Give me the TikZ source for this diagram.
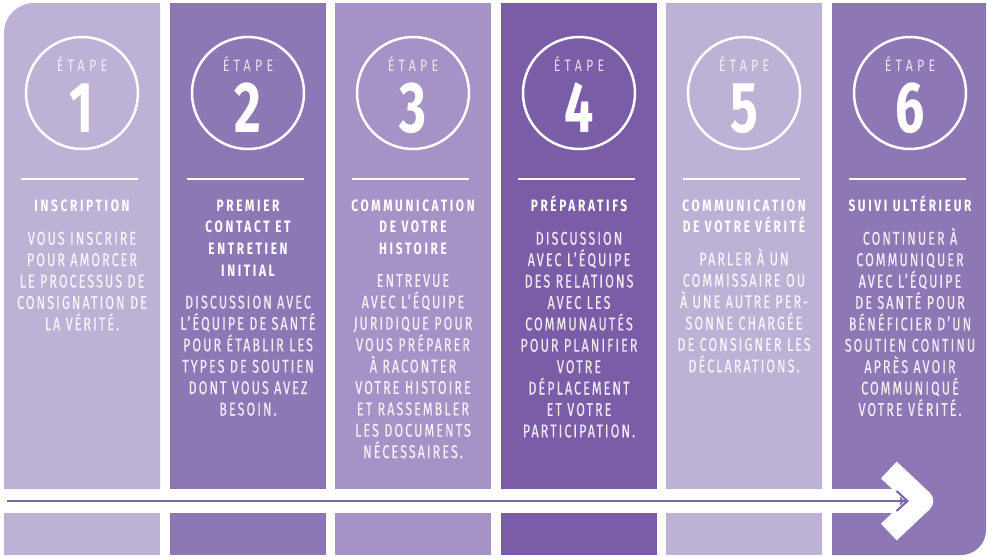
\documentclass[tikz,border=0pt]{standalone}
\usepackage{fontspec}
\setmainfont{Fira Sans}
\newfontfamily\numf{Fira Sans}[FakeStretch=0.72]
\newfontfamily\etapef{Fira Sans}[FakeStretch=0.75, LetterSpace=26]
\newfontfamily\titlef{Fira Sans}[FakeStretch=0.72, LetterSpace=16]
\newfontfamily\bodyf{Fira Sans}[FakeStretch=0.68, LetterSpace=11, FakeBold=0.4]
\usetikzlibrary{arrows.meta}
\definecolor{cA}{HTML}{BDB2D6}
\definecolor{cB}{HTML}{8D78B6}
\definecolor{cC}{HTML}{A592C6}
\definecolor{cD}{HTML}{7A5CA7}
\definecolor{cE}{HTML}{BDB1D6}
\definecolor{cF}{HTML}{8D77B5}
\definecolor{arr}{HTML}{7D62AA}
\newcommand\mystrut{\rule{0pt}{17pt}}
\begin{document}
\begin{tikzpicture}[x=1pt,y=-1pt,
  ring/.style={circle, draw=white, line width=2.5pt, minimum size=112pt, inner sep=0pt},
  etape/.style={anchor=base, text=white, text opacity=0.8, font=\etapef\fontsize{16.5}{16.5}\selectfont, inner sep=0pt},
  num/.style={anchor=base, text=white, font=\numf\bfseries\fontsize{72}{72}\selectfont, inner sep=0pt},
  ttl/.style={anchor=north, align=center, text=white, font=\titlef\bfseries\fontsize{16.5}{21.6}\selectfont, inner sep=0pt},
  body/.style={anchor=north, align=center, text=white, text opacity=0.85, font=\bodyf\fontsize{18.5}{21.4}\selectfont, inner sep=0pt},
  sep/.style={draw=white, line width=1.3pt},
  arrowline/.style={draw=arr, line width=2pt, -{Straight Barb[length=11pt, width=20pt, line width=2pt]}}
]
\useasboundingbox (0,0) rectangle (987,557);
% columns
\fill[cA] (4,489) [rounded corners=30pt] -- (4,3) [sharp corners] -- (160,3) -- (160,489) -- cycle;
\fill[cB] (170,3) rectangle (326,489);
\fill[cC] (335,3) rectangle (491,489);
\fill[cD] (501,3) rectangle (657,489);
\fill[cE] (666,3) rectangle (822,489);
\fill[cF] (832,3) -- (986,3) [rounded corners=25pt] -- (986,555) [sharp corners] -- (832,555) -- cycle;
% bottom strips
\fill[cA] (4,513) rectangle (160,555);
\fill[cB] (170,513) rectangle (326,555);
\fill[cC] (335,513) rectangle (491,555);
\fill[cD] (501,513) rectangle (657,555);
\fill[cE] (666,513) rectangle (822,555);
% white band and chevron
\fill[white] (832,489) rectangle (900,513);
\draw[white, line width=23pt, line join=round] (888.8,470) -- (921.8,501) -- (888.8,532);
% arrow
\coordinate (as) at (7,501);
\coordinate (ae) at (909,501);
\draw[arrowline] (as) -- (ae);

% step 1
\node[ring] (r1) at (82,93) {};
\node[etape] (e1) at (82,71) {ÉTAPE};
\node[num] (n1) at (82,132.5) {1};
\draw[sep] (21,179) -- (138,179);
\node[ttl] (t1) at (82,194) {\mystrut INSCRIPTION};
\node[body] (b1) at (82,227.5) {\mystrut VOUS INSCRIRE\\POUR AMORCER\\LE PROCESSUS DE\\CONSIGNATION DE\\LA VÉRITÉ.};
% step 2
\node[ring] (r2) at (248,93) {};
\node[etape] (e2) at (248,71) {ÉTAPE};
\node[num] (n2) at (248,132.5) {2};
\draw[sep] (187,179) -- (304,179);
\node[ttl] (t2) at (248,194) {\mystrut PREMIER\\CONTACT ET\\ENTRETIEN\\INITIAL};
\node[body] (b2) at (248,291.3) {\mystrut DISCUSSION AVEC\\L’ÉQUIPE DE SANTÉ\\POUR ÉTABLIR LES\\TYPES DE SOUTIEN\\DONT VOUS AVEZ\\BESOIN.};
% step 3
\node[ring] (r3) at (413,93) {};
\node[etape] (e3) at (413,71) {ÉTAPE};
\node[num] (n3) at (413,132.5) {3};
\draw[sep] (352,179) -- (469,179);
\node[ttl] (t3) at (413,194) {\mystrut COMMUNICATION\\DE VOTRE\\HISTOIRE};
\node[body] (b3) at (413,269.7) {\mystrut ENTREVUE\\AVEC L’ÉQUIPE\\JURIDIQUE POUR\\VOUS PRÉPARER\\À RACONTER\\VOTRE HISTOIRE\\ET RASSEMBLER\\LES DOCUMENTS\\NÉCESSAIRES.};
% step 4
\node[ring] (r4) at (579,93) {};
\node[etape] (e4) at (579,71) {ÉTAPE};
\node[num] (n4) at (579,132.5) {4};
\draw[sep] (518,179) -- (635,179);
\node[ttl] (t4) at (579,194) {\mystrut PRÉPARATIFS};
\node[body] (b4) at (579,227.5) {\mystrut DISCUSSION\\AVEC L’ÉQUIPE\\DES RELATIONS\\AVEC LES\\COMMUNAUTÉS\\POUR PLANIFIER\\VOTRE\\DÉPLACEMENT\\ET VOTRE\\PARTICIPATION.};
% step 5
\node[ring] (r5) at (744,93) {};
\node[etape] (e5) at (744,71) {ÉTAPE};
\node[num] (n5) at (744,132.5) {5};
\draw[sep] (683,179) -- (800,179);
\node[ttl] (t5) at (744,194) {\mystrut COMMUNICATION\\DE VOTRE VÉRITÉ};
\node[body] (b5) at (744,248.1) {\mystrut PARLER À UN\\COMMISSAIRE OU\\À UNE AUTRE PER-\\SONNE CHARGÉE\\DE CONSIGNER LES\\DÉCLARATIONS.};
% step 6
\node[ring] (r6) at (910,93) {};
\node[etape] (e6) at (910,71) {ÉTAPE};
\node[num] (n6) at (910,132.5) {6};
\draw[sep] (849,179) -- (966,179);
\node[ttl] (t6) at (910,194) {\mystrut SUIVI ULTÉRIEUR};
\node[body] (b6) at (910,227.5) {\mystrut CONTINUER À\\COMMUNIQUER\\AVEC L’ÉQUIPE\\DE SANTÉ POUR\\BÉNÉFICIER D’UN\\SOUTIEN CONTINU\\APRÈS AVOIR\\COMMUNIQUÉ\\VOTRE VÉRITÉ.};
\end{tikzpicture}
\end{document}
